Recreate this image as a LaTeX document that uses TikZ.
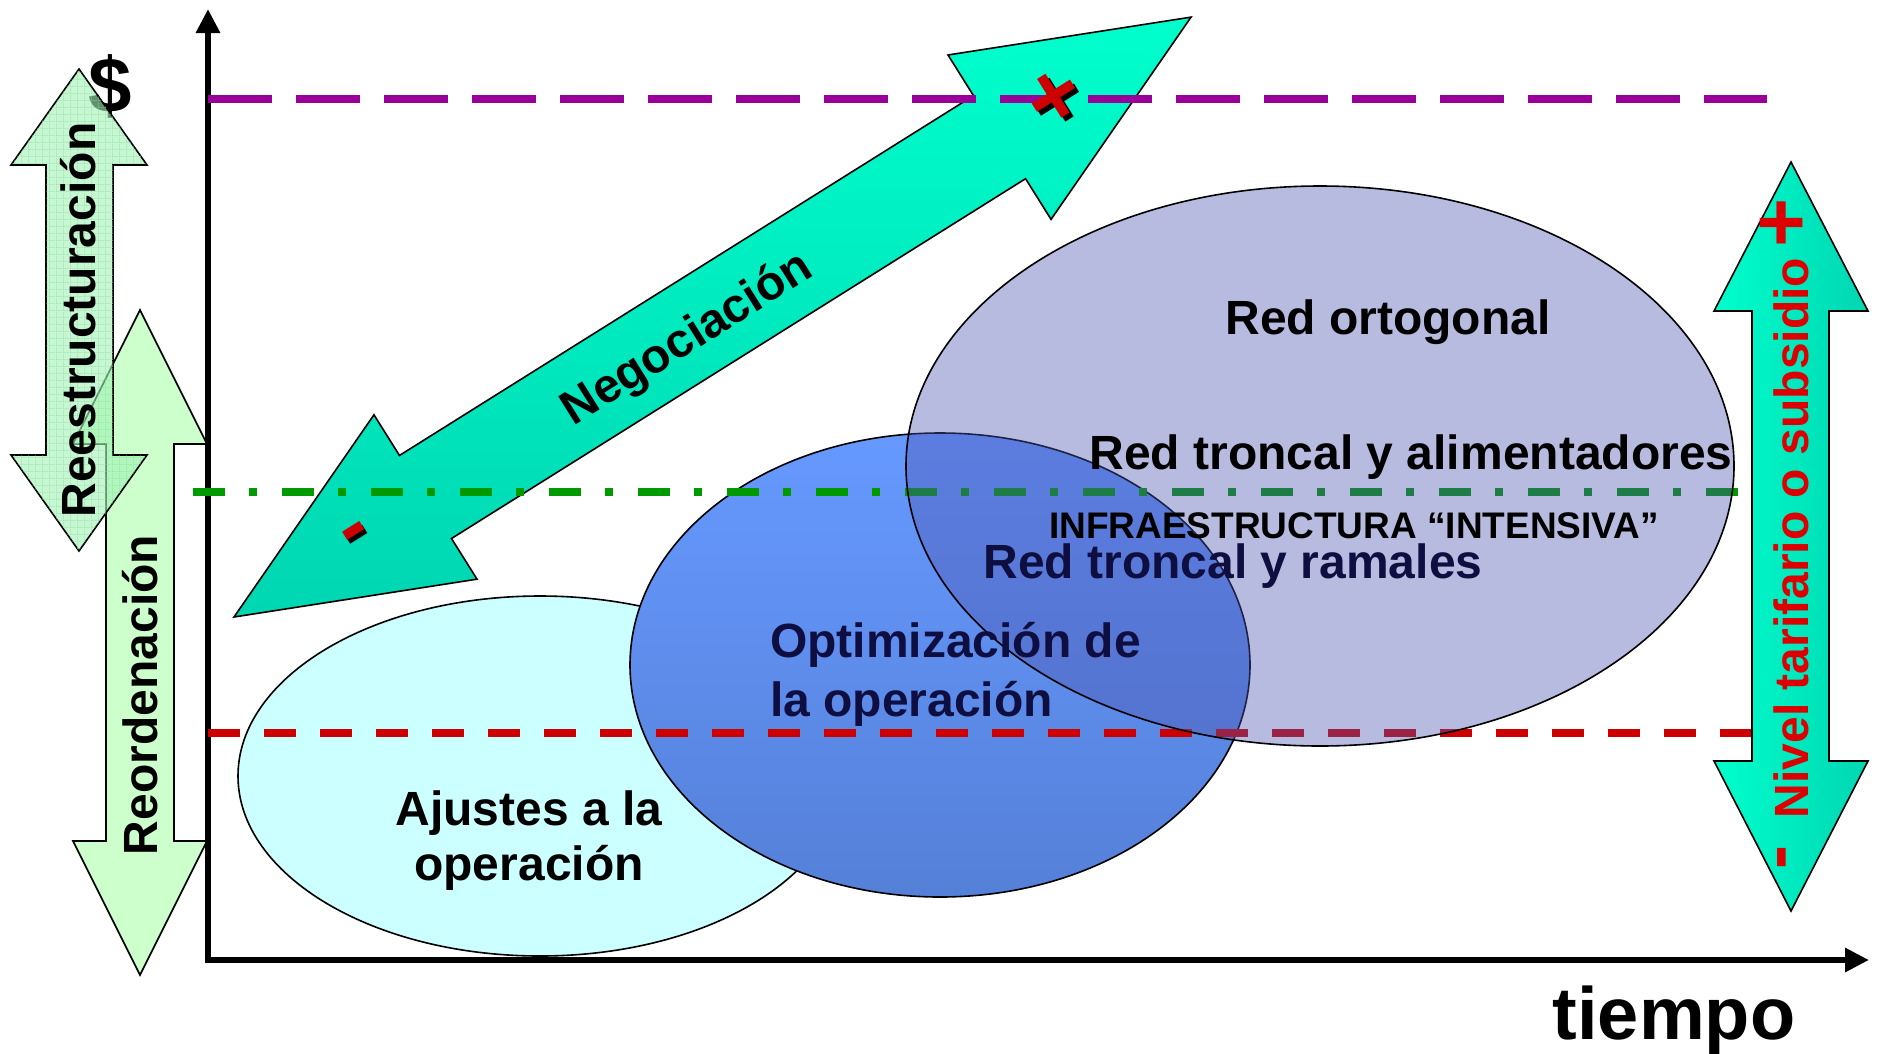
\documentclass[tikz,border=0pt]{standalone}
\usepackage{fontspec}
\setmainfont{Liberation Sans}
\usetikzlibrary{arrows.meta,patterns}
\definecolor{tealA}{HTML}{00FFCC}
\definecolor{tealB}{HTML}{00D6B2}
\definecolor{greenA}{HTML}{CCFFCC}
\definecolor{greenB}{HTML}{A0F0B4}
\definecolor{gridG}{HTML}{88DD99}
\definecolor{cyanE}{HTML}{CCFFFF}
\definecolor{blueA}{HTML}{6699FF}
\definecolor{blueB}{HTML}{5580D8}
\definecolor{navyP}{RGB}{77,85,177}
\definecolor{navyT}{HTML}{0E0E40}
\definecolor{purpleL}{HTML}{990099}
\definecolor{greenL}{HTML}{009900}
\definecolor{redL}{HTML}{CC0000}
\definecolor{redT}{HTML}{DD0000}
\pgfdeclarepatternformonly{finegridG}{\pgfqpoint{0pt}{0pt}}{\pgfqpoint{7pt}{7pt}}{\pgfqpoint{7pt}{7pt}}{%
  \pgfsetlinewidth{0.8pt}%
  \pgfpathmoveto{\pgfqpoint{0pt}{0pt}}\pgfpathlineto{\pgfqpoint{7pt}{0pt}}%
  \pgfpathmoveto{\pgfqpoint{0pt}{0pt}}\pgfpathlineto{\pgfqpoint{0pt}{7pt}}%
  \pgfusepath{stroke}}
\begin{document}
\begin{tikzpicture}[x=1pt,y=-1pt,
  txt/.style={font=\fontsize{48}{58}\selectfont\bfseries, inner sep=0pt},
  vtxt/.style={txt, rotate=90},
  bigsym/.style={font=\fontsize{#1}{#1}\selectfont\bfseries, inner sep=0pt},
  outl/.style={draw=black, line width=1.6pt},
  dline/.style={line width=8pt}]
\useasboundingbox (0,0) rectangle (1881,1053);
\fill[white] (0,0) rectangle (1881,1053);

% dollar
\node[bigsym=78] (dollar) at (110,86) {\$};

% Reordenacion arrow
\draw[outl, fill=greenA] (140,310) -- (207,444) -- (174,444) -- (174,841) -- (207,841) -- (140,975) -- (73,841) -- (106,841) -- (106,444) -- (73,444) -- cycle;
% Reestructuracion arrow
\draw[outl, preaction={fill=greenB, fill opacity=0.6}, postaction={pattern=finegridG, pattern color=gridG}]
  (79,69) -- (147,165) -- (113,165) -- (113,455) -- (147,455) -- (79,551) -- (11,455) -- (46,455) -- (46,165) -- (11,165) -- cycle;
\node[vtxt] (reest) at (78,320) {Reestructuración};
\node[vtxt] (reord) at (140,695) {Reordenación};

% ellipses (lower layer)
\draw[outl, fill=cyanE] (540,776) ellipse [x radius=302pt, y radius=180pt];
\draw[outl, top color=blueA, bottom color=blueB] (940,665) ellipse [x radius=310pt, y radius=232pt];
\node[txt, anchor=base] (aj1) at (529,825) {Ajustes a la};
\node[txt, anchor=base] (aj2) at (529,880) {operación};

% axes
\coordinate (ytop) at (208,9);
\coordinate (orig) at (208,960);
\coordinate (xend) at (1869,960);
\draw[line width=6.5pt, line join=miter, {Triangle[length=24pt,width=23pt]}-{Triangle[length=24pt,width=23pt]}] (ytop) -- (orig) -- (xend);

% Negociacion arrow
\begin{scope}[shift={(234,617)}, rotate=32.08]
\draw[outl, top color=tealA, bottom color=tealB]
  (0,0) -- (226,97) -- (226,49) -- (903.5,49) -- (903.5,97) -- (1129.5,0) -- (903.5,-97) -- (903.5,-49) -- (226,-49) -- (226,-97) -- cycle;
\end{scope}
\node[txt, rotate=32.08] (neg) at (688,340) {Negociación};

% level lines
\coordinate (p1) at (208,99); \coordinate (p2) at (1767,99);
\coordinate (g1) at (193,492); \coordinate (g2) at (1752,492);
\coordinate (r1) at (208,733); \coordinate (r2) at (1752,733);
\draw[dline, purpleL, dash pattern=on 64pt off 24pt] (p1) -- (p2);
\draw[dline, greenL, dash pattern=on 32pt off 24pt on 8pt off 25pt] (g1) -- (g2);
\draw[dline, redL, dash pattern=on 32pt off 24pt] (r1) -- (r2);

% plus / minus on negociacion arrow
\node[bigsym=90, text=black, rotate=32.08] (plsS) at (1060,103) {+};
\node[bigsym=90, text=redL, rotate=32.08] (pls) at (1056,99) {+};
\node[bigsym=80, text=black, rotate=32.08] (mnsS) at (361,542) {-};
\node[bigsym=80, text=redL, rotate=32.08] (mns) at (358,538) {-};

% patterned ellipse
\draw[outl, fill=navyP, fill opacity=0.4] (1320,466) ellipse [x radius=414pt, y radius=280pt];
\node[txt, anchor=base west, text=navyT] (op1) at (770,657) {Optimización de};
\node[txt, anchor=base west, text=navyT] (op2) at (770,716) {la operación};
\node[txt, anchor=base, text=navyT] (rtr) at (1233,578) {Red troncal y ramales};
\node[txt, anchor=base] (rorto) at (1388,334) {Red ortogonal};
\node[txt, anchor=base] (rtra) at (1411,469) {Red troncal y alimentadores};
\node[txt, anchor=base, font=\fontsize{37}{42}\selectfont\bfseries] (infra) at (1354,538) {INFRAESTRUCTURA “INTENSIVA”};

% Nivel arrow
\draw[outl, left color=tealA, right color=tealB] (1791,162) -- (1868,311) -- (1829,311) -- (1829,761) -- (1868,761) -- (1791,911) -- (1714,761) -- (1752,761) -- (1752,311) -- (1714,311) -- cycle;
\node[vtxt, text=redT] (nivel) at (1791,538) {Nivel tarifario o subsidio};
\node[bigsym=84, text=redT, rotate=90] (nplus) at (1785,223) {+};
\node[bigsym=72, text=redT, rotate=90] (nminus) at (1789,857) {-};

% tiempo
\node[txt, anchor=base, font=\fontsize{74}{80}\selectfont\bfseries] (tiempo) at (1674,1039) {tiempo};
\end{tikzpicture}
\end{document}
